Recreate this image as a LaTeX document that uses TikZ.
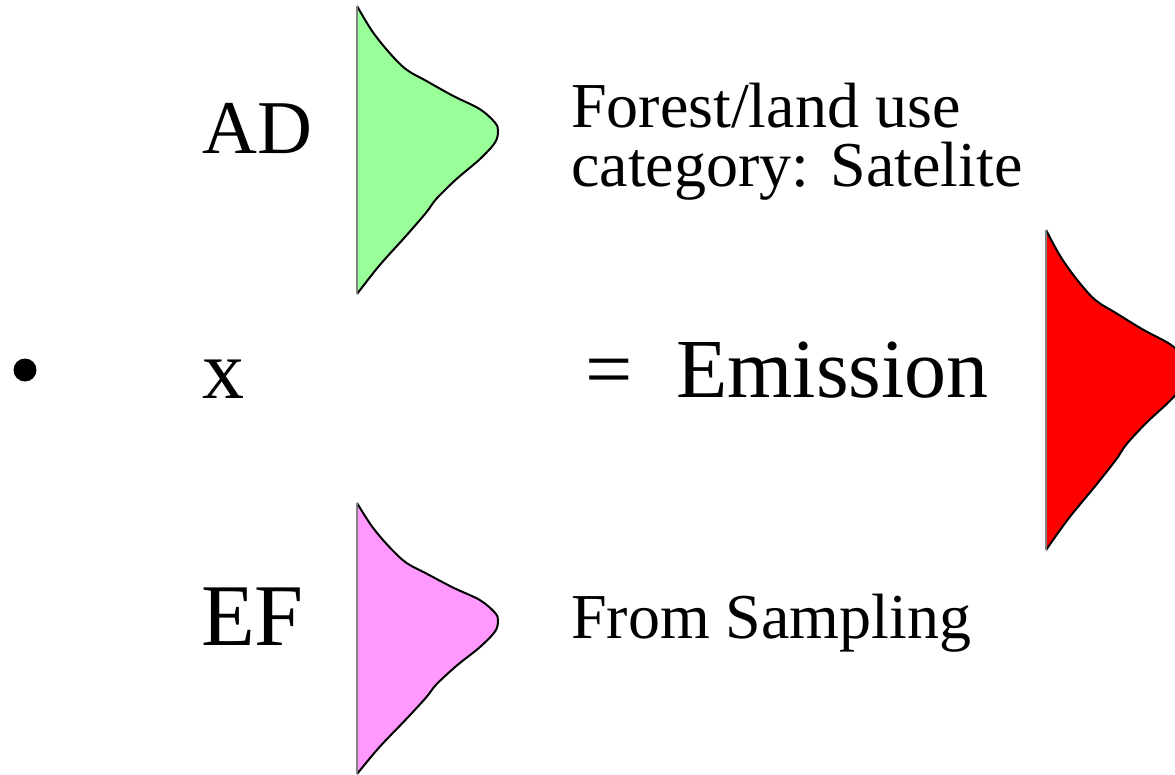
\documentclass[tikz,border=0pt]{standalone}
\usepackage{fontspec}
\setmainfont{Liberation Serif}
\usepackage{tikz}
\definecolor{adgreen}{RGB}{153,255,153}
\definecolor{efpink}{RGB}{255,153,255}
\definecolor{emred}{RGB}{255,0,0}

\begin{document}
\begin{tikzpicture}[x=1pt, y=-1pt,
    big/.style={inner sep=0pt, anchor=base west, font=\fontsize{84}{88}\selectfont},
    mid/.style={inner sep=0pt, anchor=base west, font=\fontsize{64}{68}\selectfont},
    distcurve/.pic={
      \fill[#1] plot[smooth, tension=0.55] coordinates {(0,0) (0.107,0.087) (0.229,0.162) (0.348,0.220) (0.491,0.260) (0.681,0.312) (0.871,0.358) (0.979,0.405) (1,0.434) (0.979,0.474) (0.871,0.532) (0.705,0.601) (0.562,0.670) (0.491,0.717) (0.348,0.798) (0.157,0.902) (0,1)} -- cycle;
      \draw[line width=2pt, line join=round] plot[smooth, tension=0.55] coordinates {(0,0) (0.107,0.087) (0.229,0.162) (0.348,0.220) (0.491,0.260) (0.681,0.312) (0.871,0.358) (0.979,0.405) (1,0.434) (0.979,0.474) (0.871,0.532) (0.705,0.601) (0.562,0.670) (0.491,0.717) (0.348,0.798) (0.157,0.902) (0,1)};
      \draw[gray, line width=1.2pt] (0,0) -- (0,1);
    }]
  \useasboundingbox (0,0) rectangle (1175,774);
  \clip (0,0) rectangle (1175,774);

  % distributions: left, top, width, height, colour
  \foreach \px/\py/\w/\h/\col in {357/6/141/288/adgreen, 357/503/141/271/efpink, 1046/230/143/320/emred}{
    \pic[xscale=\w, yscale=\h] at (\px,\py) {distcurve=\col};
  }

  % labels
  \node[circle, fill, inner sep=0pt, minimum size=23pt] (bullet) at (25,370) {};
  \node[big, font=\fontsize{76}{80}\selectfont] (ad) at (202,153) {AD};
  \node[big] (times) at (202,398) {x};
  \node[big, font=\fontsize{88}{92}\selectfont] (ef) at (201,645) {EF};
  \node[mid] (forest) at (571,127) {Forest/land use};
  \node[mid] (satel) at (571,186) {category: Satelite};
  \node[big] (eq) at (585,397) {=};
  \node[big] (emis) at (676,397) {Emission};
  \node[mid] (sampl) at (571,638) {From Sampling};
\end{tikzpicture}
\end{document}
